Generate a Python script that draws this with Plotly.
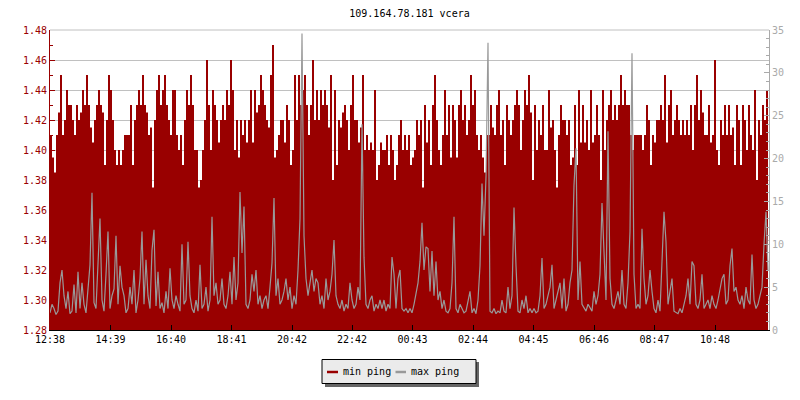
import plotly.graph_objects as go
import pandas as pd

title_text = "109.164.78.181 vcera"
start_time = "2024-01-01 12:38"
step_minutes = 4
tick_labels = ["12:38", "14:39", "16:40", "18:41", "20:42", "22:42",
               "00:43", "02:44", "04:45", "06:46", "08:47", "10:48"]
series_names = ["min ping", "max ping"]

min_ping = [
    1.41, 1.395, 1.385, 1.41, 1.425, 1.45, 1.41, 1.42, 1.44, 1.43,
    1.43, 1.42, 1.41, 1.43, 1.42, 1.425, 1.44, 1.43, 1.45, 1.43,
    1.415, 1.405, 1.42, 1.43, 1.44, 1.43, 1.425, 1.39, 1.42, 1.45,
    1.44, 1.42, 1.40, 1.39, 1.40, 1.39, 1.40, 1.41, 1.41, 1.41,
    1.43, 1.39, 1.42, 1.43, 1.44, 1.43, 1.45, 1.43, 1.425, 1.41,
    1.415, 1.375, 1.42, 1.44, 1.45, 1.43, 1.44, 1.45, 1.43, 1.42,
    1.41,
    1.44, 1.44, 1.41, 1.40, 1.41, 1.39, 1.42, 1.44, 1.43, 1.45,
    1.43, 1.40, 1.40, 1.375, 1.38, 1.40, 1.42, 1.46, 1.43, 1.40,
    1.44, 1.43, 1.42, 1.405, 1.42, 1.43, 1.42, 1.44, 1.43, 1.46,
    1.44, 1.40, 1.42, 1.395, 1.42, 1.41, 1.42, 1.405, 1.42, 1.44,
    1.405, 1.44, 1.425, 1.43, 1.45, 1.44, 1.43, 1.42, 1.415, 1.45,
    1.47, 1.395, 1.40, 1.41, 1.42, 1.42, 1.405, 1.43, 1.42, 1.39,
    1.40, 1.45, 1.42, 1.45, 1.43, 1.44, 1.45, 1.43, 1.41, 1.43,
    1.46, 1.42, 1.44, 1.42, 1.44, 1.43, 1.44, 1.43, 1.415, 1.45,
    1.38, 1.44, 1.39, 1.42, 1.415, 1.425, 1.43, 1.42, 1.40, 1.43,
    1.45, 1.42, 1.42, 1.405, 1.415, 1.45, 1.40, 1.41, 1.40, 1.405,
    1.40, 1.44, 1.38, 1.39, 1.405, 1.40, 1.40, 1.41, 1.39, 1.41,
    1.40, 1.38, 1.39, 1.41, 1.42, 1.40, 1.41, 1.40, 1.41, 1.39,
    1.395, 1.40, 1.42, 1.41, 1.42, 1.375, 1.43, 1.405, 1.42, 1.39,
    1.43, 1.45, 1.42, 1.40, 1.39, 1.41, 1.44, 1.41, 1.43, 1.395,
    1.43, 1.42, 1.395, 1.43, 1.44, 1.42, 1.43, 1.41, 1.42, 1.45,
    1.43, 1.44, 1.41, 1.40, 1.41, 1.395, 1.385, 1.41, 1.41, 1.43,
    1.415, 1.41, 1.43, 1.44, 1.41, 1.42, 1.39, 1.43, 1.42, 1.41,
    1.42, 1.43, 1.44, 1.43, 1.40, 1.42, 1.44, 1.43, 1.45, 1.425,
    1.38, 1.43, 1.40, 1.42, 1.41, 1.43, 1.40, 1.40, 1.44, 1.415,
    1.42, 1.40, 1.375, 1.41, 1.43, 1.42, 1.42, 1.41, 1.42, 1.39,
    1.395, 1.43, 1.39, 1.44, 1.405, 1.43, 1.405, 1.42, 1.40, 1.44,
    1.405, 1.41, 1.43, 1.41, 1.38, 1.44, 1.40, 1.42, 1.43, 1.44,
    1.42, 1.43, 1.42, 1.43, 1.45, 1.43, 1.44, 1.43, 1.43, 1.41,
    1.40, 1.41, 1.41, 1.41, 1.41, 1.40, 1.41, 1.43, 1.42, 1.39,
    1.41, 1.405, 1.42, 1.42, 1.43, 1.42, 1.45, 1.405, 1.43, 1.44,
    1.41, 1.42, 1.43, 1.42, 1.41, 1.42, 1.41, 1.42, 1.41, 1.43,
    1.40, 1.43, 1.45, 1.42, 1.44, 1.425, 1.41, 1.41, 1.43, 1.405,
    1.41, 1.46, 1.40, 1.39, 1.42, 1.41, 1.43, 1.41, 1.43, 1.41,
    1.415, 1.39, 1.43, 1.42, 1.39, 1.43, 1.42, 1.40, 1.43, 1.41,
    1.40, 1.44, 1.38, 1.42, 1.41, 1.43, 1.42, 1.44, 1.415,
]

max_ping = [
    2.0, 3.0, 2.5, 1.8, 2.2, 5.5, 7.0, 4.0, 2.5, 4.5,
    1.9, 2.2, 5.3, 2.0, 6.8, 2.5, 5.5, 3.0, 2.0, 4.5,
    7.6, 16.0, 3.2, 2.5, 7.5, 13.0, 3.5, 2.2, 6.5, 11.5,
    2.5, 4.0, 4.8, 11.0, 3.0, 7.5, 5.0, 4.0, 2.0, 2.5,
    5.0, 3.0, 7.0, 2.0, 3.5, 6.0, 11.5, 3.0, 8.2, 4.0,
    2.5, 9.3, 11.7, 2.8, 6.8, 2.5, 3.2, 2.0, 4.5, 2.5,
    7.2,
    3.5, 2.5, 4.0, 3.0, 2.2, 10.0, 3.0, 3.5, 10.3, 4.0,
    2.5, 2.0, 3.5, 2.2, 7.6, 2.5, 3.0, 5.0, 2.2, 3.5,
    13.2, 4.0, 5.5, 3.0, 3.5, 6.0, 3.0, 2.5, 4.0, 6.8,
    3.0, 8.5, 3.5, 5.5, 16.1, 9.0, 14.4, 3.0, 2.5, 3.5,
    6.5, 4.5, 7.0, 3.0, 4.0, 2.5, 3.5, 4.0, 2.5, 5.0,
    7.8, 15.4, 4.0, 6.0, 3.0, 3.5, 4.5, 6.0, 3.5, 5.0,
    2.5, 4.0, 3.0, 7.0, 13.0, 34.6, 11.0, 6.0, 4.0, 5.5,
    7.0, 4.5, 6.0, 5.5, 3.0, 4.0, 2.5, 6.0, 3.5, 4.5,
    6.5, 10.5, 4.0, 3.0, 2.5, 3.5, 2.2, 3.0, 2.5, 5.5,
    3.5, 2.5, 3.0, 5.0, 3.5, 24.0, 8.5, 3.0, 2.5, 3.5,
    4.0, 2.2, 3.0, 2.5, 3.5, 2.5, 3.5, 2.2, 3.0, 2.5,
    8.5, 6.5, 2.5, 6.0, 7.0, 2.5, 2.2, 2.5, 2.0, 2.5,
    2.0, 3.0, 4.5, 5.5, 8.0, 12.5, 7.0, 9.7, 9.5, 4.5,
    9.2, 4.0, 8.0, 3.5, 4.5, 2.5, 3.5, 2.2, 2.0, 2.5,
    5.5, 13.2, 2.5, 2.0, 3.0, 2.5, 2.0, 2.2, 3.5, 4.5,
    2.0, 2.5, 1.9, 3.5, 7.5, 17.1, 11.0, 17.9, 33.5, 2.2,
    2.0, 2.5, 1.9, 2.2, 2.0, 3.5, 2.2, 2.0, 5.0, 2.5,
    4.0, 14.3, 7.5, 2.2, 2.0, 3.5, 2.5, 4.0, 2.0, 2.5,
    2.0, 2.5, 2.0, 2.2, 4.0, 8.4, 2.5, 3.0, 4.0, 5.0,
    7.6, 2.5, 3.5, 4.5, 5.5, 2.5, 6.0, 2.2, 3.0, 5.5,
    7.0, 16.9, 21.2, 3.5, 8.0, 3.0, 2.5, 2.2, 3.0, 2.5,
    2.2, 4.5, 3.0, 4.0, 6.5, 14.8, 9.5, 3.5, 23.2, 6.0,
    3.0, 2.5, 3.5, 4.5, 3.0, 7.0, 3.0, 2.5, 5.5, 11.5,
    32.3, 6.5, 2.5, 3.0, 2.5, 11.8, 6.0, 3.0, 4.0, 7.0,
    4.5, 2.5, 2.0, 3.5, 2.2, 8.0, 13.8, 10.3, 3.0, 4.5,
    6.0, 2.2, 2.0, 1.9, 2.5, 2.0, 3.0, 4.0, 6.0, 3.0,
    8.0, 7.5, 3.0, 2.5, 3.5, 6.5, 2.5, 3.0, 3.5, 2.5,
    4.0, 3.0, 2.5, 3.5, 5.0, 6.0, 6.5, 3.0, 3.5, 7.5,
    9.5, 4.5, 5.0, 3.5, 3.0, 4.0, 2.5, 5.0, 3.5, 3.0,
    8.8, 3.5, 2.5, 3.0, 4.0, 5.0, 10.0, 13.8, 7.0,
]

RED = "#990000"
GRAY = "#999999"
AXGRAY = "#aaaaaa"
FONT = "DejaVu Sans Mono"

# the page adds an 8px body margin; the figure fills the rest of the window
OFF = 8
W, H = 800 - OFF, 400 - OFF
# plot area in window pixels: x 50..769, y 30..330
ML, MR, MT, MB = 50 - OFF, 800 - 769, 30 - OFF, 400 - 330
PW, PH = W - ML - MR, H - MT - MB


def px(xp):
    """window pixel x -> paper fraction"""
    return (xp - OFF - ML) / PW


def py(yp):
    """window pixel y -> paper fraction"""
    return (H - MB - (yp - OFF)) / PH


t0 = pd.Timestamp(start_time)
times = pd.date_range(t0, periods=len(min_ping), freq=f"{step_minutes}min")
t_end = t0 + pd.Timedelta(minutes=1438)

# tick positions from the labels (rolling over midnight)
tickvals = []
day = t0.normalize()
prev = None
for lab in tick_labels:
    h, m = map(int, lab.split(":"))
    t = day + pd.Timedelta(hours=h, minutes=m)
    if prev is not None and t < prev:
        day = day + pd.Timedelta(days=1)
        t = t + pd.Timedelta(days=1)
    tickvals.append(t)
    prev = t

fig = go.Figure()
fig.add_trace(go.Scatter(
    x=times, y=min_ping, name=series_names[0], mode="lines",
    line=dict(color=RED, width=0, shape="hv"),
    fill="tozeroy", fillcolor=RED, yaxis="y", showlegend=False,
))
fig.add_trace(go.Scatter(
    x=times, y=max_ping, name=series_names[1], mode="lines",
    line=dict(color=GRAY, width=1.2, shape="linear"), yaxis="y2", showlegend=False,
))

# hand-drawn legend box with drop shadow
shapes = [
    dict(type="line", xref="paper", yref="paper", x0=0, x1=1, y0=1, y1=1,
         line=dict(color="#c0c0c0", width=1), layer="below"),
    dict(type="rect", xref="paper", yref="paper",
         x0=px(325), x1=px(479), y0=py(362), y1=py(387),
         fillcolor="#666666", line=dict(width=0)),
    dict(type="rect", xref="paper", yref="paper",
         x0=px(322), x1=px(476), y0=py(359.5), y1=py(383.5),
         fillcolor="#ebebeb", line=dict(color="black", width=1)),
    dict(type="line", xref="paper", yref="paper",
         x0=px(327), x1=px(338), y0=py(372), y1=py(372),
         line=dict(color=RED, width=2.5)),
    dict(type="line", xref="paper", yref="paper",
         x0=px(395.5), x1=px(406), y0=py(372), y1=py(372),
         line=dict(color=GRAY, width=2.5)),
]
annotations = [
    dict(text=series_names[0], xref="paper", yref="paper", x=px(341), y=py(371.5),
         xanchor="left", yanchor="middle", showarrow=False,
         font=dict(family=FONT, size=10, color="black")),
    dict(text=series_names[1], xref="paper", yref="paper", x=px(408.5), y=py(371.5),
         xanchor="left", yanchor="middle", showarrow=False,
         font=dict(family=FONT, size=10, color="black")),
]

fig.update_layout(
    width=W, height=H,
    margin=dict(l=ML, r=MR, t=MT, b=MB, pad=0, autoexpand=False),
    paper_bgcolor="white", plot_bgcolor="white",
    font=dict(family=FONT, size=10, color="black"),
    title=dict(text=title_text, x=0.5, xref="paper", y=1 - (13 - OFF) / H,
               yanchor="middle", font=dict(family=FONT, size=10, color="black")),
    showlegend=False,
    shapes=shapes,
    annotations=annotations,
    xaxis=dict(range=[t0, t_end], tickvals=tickvals, ticktext=tick_labels,
               ticks="inside", ticklen=5, tickcolor="black", showline=True,
               linecolor="black", linewidth=1, showgrid=False, zeroline=False,
               automargin=False,
               tickfont=dict(family=FONT, size=10, color="black")),
    yaxis=dict(range=[1.28, 1.48], dtick=0.02, tick0=1.28, tickformat=".2f",
               ticks="inside", ticklen=5, tickcolor=RED, showline=True,
               linecolor=RED, linewidth=1, gridcolor="#c0c0c0", gridwidth=1,
               zeroline=False, automargin=False,
               tickfont=dict(family=FONT, size=10, color=RED),
               minor=dict(dtick=0.01, tick0=1.28, ticks="inside", ticklen=3,
                          tickcolor=RED, showgrid=False)),
    yaxis2=dict(range=[0, 35], dtick=5, tick0=0, overlaying="y", side="right",
                ticks="inside", ticklen=5, tickcolor=AXGRAY, showline=True,
                linecolor=AXGRAY, linewidth=1, showgrid=False, zeroline=False,
                automargin=False,
                tickfont=dict(family=FONT, size=10, color=AXGRAY),
                minor=dict(dtick=1, tick0=0, ticks="inside", ticklen=3,
                           tickcolor=AXGRAY, showgrid=False)),
)

fig.write_html("out.html")
